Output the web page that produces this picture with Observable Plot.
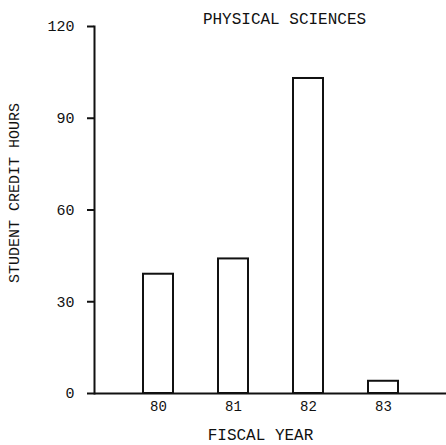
<!DOCTYPE html>
<html>
<head>
<meta charset="utf-8">
<script src="https://cdn.jsdelivr.net/npm/d3@7"></script>
<script src="https://cdn.jsdelivr.net/npm/@observablehq/plot@0.6"></script>
<style>
  html, body { margin: 0; padding: 0; background: #fff; }
</style>
</head>
<body>
<div id="chart"></div>
<script>
const years = ["80", "81", "82", "83"];
const hours = [39, 44, 103, 4];
const yTicks = [0, 30, 60, 90, 120];
const title = "PHYSICAL SCIENCES";
const xLabel = "FISCAL YEAR";
const yLabel = "STUDENT CREDIT HOURS";

const data = years.map((y, i) => ({year: y, hours: hours[i]}));

const chart = Plot.plot({
  width: 446,
  height: 445,
  marginLeft: 94,
  marginRight: 0,
  marginTop: 26,
  marginBottom: 52,
  style: {fontFamily: "'Liberation Mono', monospace", fontSize: "16px", color: "#111", background: "#fff"},
  x: {domain: years, paddingInner: 0.603, paddingOuter: 0.636},
  y: {domain: [0, 120]},
  marks: [
    Plot.barY(data, {x: "year", y: "hours", fill: "white", stroke: "#111", strokeWidth: 2}),
    Plot.ruleY([0], {stroke: "#111", strokeWidth: 2}),
    Plot.frame({anchor: "left", stroke: "#111", strokeWidth: 2}),
    Plot.axisY({ticks: yTicks, tickSize: 7, tickPadding: 13, strokeWidth: 2, label: null, fontSize: 15}),
    Plot.axisX({tickSize: 0, tickPadding: 8, label: null, fontSize: 14}),
    Plot.text([title], {frameAnchor: "top", lineAnchor: "bottom", dy: -3, dx: 14, fontSize: 16}),
    Plot.text([xLabel], {frameAnchor: "bottom", lineAnchor: "bottom", dy: 46, dx: -10, fontSize: 16}),
    Plot.text([yLabel], {frameAnchor: "left", textAnchor: "middle", rotate: -90, dx: -80, dy: -17, fontSize: 15})
  ]
});
document.getElementById("chart").appendChild(chart);
</script>
</body>
</html>
